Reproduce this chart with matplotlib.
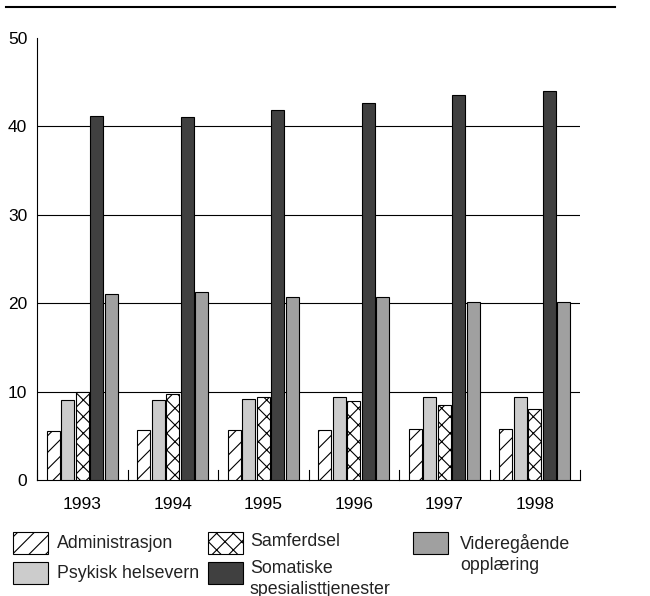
import numpy as np
import matplotlib.pyplot as plt
from matplotlib.patches import Rectangle
from matplotlib.lines import Line2D

plt.rcParams['font.family'] = ['Liberation Sans', 'DejaVu Sans']
plt.rcParams['hatch.linewidth'] = 0.8

years = ['1993', '1994', '1995', '1996', '1997', '1998']
series = ['Administrasjon', 'Psykisk helsevern', 'Samferdsel',
          'Somatiske\nspesialisttjenester', 'Videregående\nopplæring']
admin = [5.5, 5.6, 5.6, 5.7, 5.75, 5.75]
psyk = [9.0, 9.0, 9.2, 9.35, 9.4, 9.4]
samf = [9.9, 9.7, 9.4, 8.9, 8.5, 8.0]
soma = [41.2, 41.1, 41.9, 42.7, 43.6, 44.0]
vgo = [21.0, 21.3, 20.7, 20.7, 20.1, 20.1]
y_ticks = [0, 10, 20, 30, 40, 50]

values = [admin, psyk, samf, soma, vgo]
colors = ['white', '#cccccc', 'white', '#404040', '#a0a0a0']
hatches = ['//', None, 'xx', None, None]

fig = plt.figure(figsize=(6.5, 5.96), dpi=100)
ax = fig.add_axes([37 / 650, 1 - 480 / 596, 543 / 650, 442 / 596])

x = np.arange(len(years))
step = 0.161
width = 0.145
for k, (vals, col, h) in enumerate(zip(values, colors, hatches)):
    ax.bar(x + (k - 2) * step, vals, width, color=col, edgecolor='black',
           linewidth=0.8, hatch=h, zorder=3)

ax.set_xlim(-0.5, len(years) - 0.5)
ax.set_ylim(0, 50)
for v in y_ticks[1:-1]:
    ax.axhline(v, color='black', linewidth=0.8, zorder=1)

ax.set_yticks(y_ticks)
ax.tick_params(axis='y', length=0, labelsize=12.5, pad=7)
ax.set_xticks(x)
ax.set_xticklabels(years)
ax.tick_params(axis='x', length=0, labelsize=12.5, pad=12)
# group separator ticks pointing up
for b in np.arange(len(years) + 1) - 0.5:
    ax.plot([b, b], [0, 1.1], color='black', linewidth=0.8, zorder=4,
            clip_on=False)

for s in ['top', 'right']:
    ax.spines[s].set_visible(False)
ax.spines['left'].set_linewidth(0.8)
ax.spines['bottom'].set_linewidth(0.8)

# top rule
fig.add_artist(Line2D([6 / 650, 615 / 650], [1 - 7 / 596, 1 - 7 / 596],
                      color='black', linewidth=1.5))


# legend (pixel positions)
def px(xp, yp):
    return xp / 650, 1 - yp / 596


legend_box = [(13, 532), (13, 562), (208, 532), (208, 562), (413, 532)]
text_pos = [(57, 544), (57, 573), (250, 542), (250, 579), (460, 554)]
for k, ((lx, ly), (tx, ty)) in enumerate(zip(legend_box, text_pos)):
    x0, y0 = px(lx, ly + 22)
    fig.add_artist(Rectangle((x0, y0), 35 / 650, 22 / 596, facecolor=colors[k],
                             edgecolor='black', linewidth=0.8, hatch=hatches[k],
                             transform=fig.transFigure))
    fx, fy = px(tx, ty)
    fig.text(fx, fy, series[k], fontsize=12.8, va='center', ha='left',
             linespacing=1.25, color='#222222')

fig.savefig('out.png', dpi=100)
